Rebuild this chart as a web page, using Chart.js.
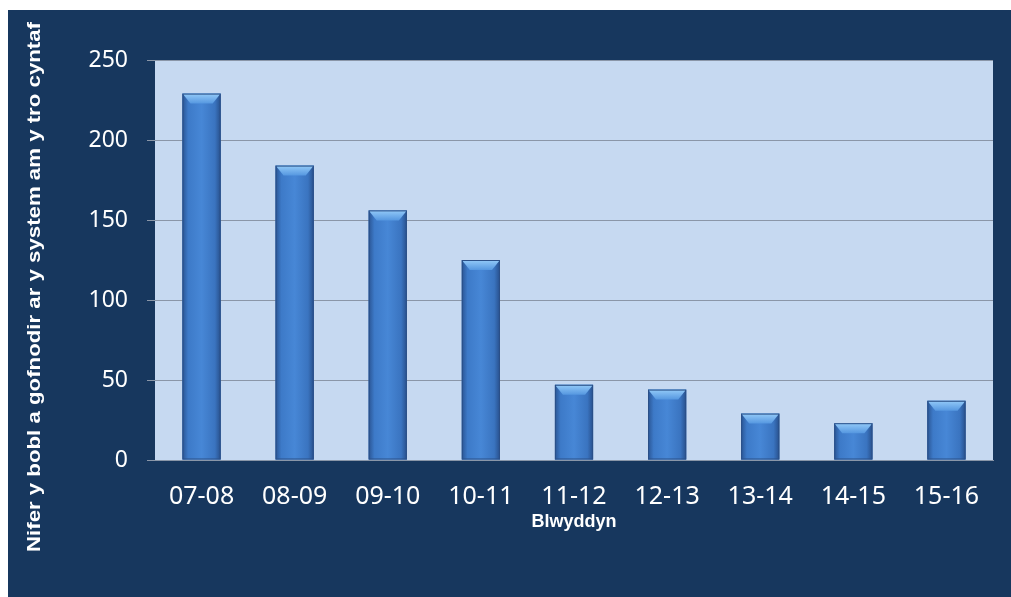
<!DOCTYPE html>
<html lang="cy">
<head>
  <meta charset="UTF-8">
  <title>Nifer y bobl a gofnodir ar y system am y tro cyntaf</title>
  <script src="https://cdn.jsdelivr.net/npm/chart.js"></script>
  <style>
    html, body { margin: 0; padding: 0; background: #fff; }
    #chartContainer {
      position: absolute;
      left: 8px;
      top: 10px;
      width: 1003px;
      height: 587px;
      background: #17375e;
    }
  </style>
</head>
<body>
<div id="chartContainer">
  <canvas id="yearChart"></canvas>
</div>

<script>
  const years = ['07-08', '08-09', '09-10', '10-11', '11-12', '12-13', '13-14', '14-15', '15-16'];
  const people = [229, 184, 156, 125, 47, 44, 29, 23, 37];
  const yTicks = [0, 50, 100, 150, 200, 250];
  const yTitle = 'Nifer y bobl a gofnodir ar y system am y tro cyntaf';
  const xTitle = 'Blwyddyn';

  // light blue plot area behind the bars
  const plotBackground = {
    id: 'plotBackground',
    beforeDraw(chart) {
      const { ctx, chartArea: a } = chart;
      ctx.save();
      ctx.fillStyle = '#c6d9f1';
      ctx.fillRect(a.left, a.top, a.right - a.left, a.bottom - a.top);
      ctx.restore();
    }
  };

  // shaded, bevelled look on each bar
  const bevel = {
    id: 'bevel',
    afterDatasetsDraw(chart) {
      const ctx = chart.ctx;
      chart.getDatasetMeta(0).data.forEach(bar => {
        const { x, y, base, width } = bar.getProps(['x', 'y', 'base', 'width'], true);
        const l = x - width / 2, r = x + width / 2;
        const g = ctx.createLinearGradient(l, 0, r, 0);
        g.addColorStop(0, '#2a5594');
        g.addColorStop(0.15, '#3d7ac8');
        g.addColorStop(0.5, '#4787d6');
        g.addColorStop(0.85, '#3a74c0');
        g.addColorStop(1, '#28508c');
        ctx.save();
        ctx.fillStyle = g;
        ctx.fillRect(l, y, width, base - y);
        const b = Math.min(10, (base - y) / 2);
        const tg = ctx.createLinearGradient(0, y, 0, y + b);
        tg.addColorStop(0, '#93caf8');
        tg.addColorStop(1, '#5597e0');
        ctx.fillStyle = tg;
        ctx.beginPath();
        ctx.moveTo(l, y);
        ctx.lineTo(r, y);
        ctx.lineTo(r - 8, y + b);
        ctx.lineTo(l + 8, y + b);
        ctx.closePath();
        ctx.fill();
        ctx.strokeStyle = '#2b5088';
        ctx.lineWidth = 1;
        ctx.strokeRect(l + 0.5, y + 0.5, width - 1, base - y - 1);
        ctx.restore();
      });
    }
  };

  // axis titles
  const axisTitles = {
    id: 'axisTitles',
    afterDraw(chart) {
      const { ctx, chartArea: a } = chart;
      ctx.save();
      ctx.fillStyle = '#ffffff';
      ctx.textAlign = 'center';
      ctx.textBaseline = 'middle';
      ctx.font = 'bold 18px "Liberation Sans", Arial, sans-serif';
      ctx.fillText(xTitle, (a.left + a.right) / 2, 512);
      ctx.translate(27, 277);
      ctx.rotate(-Math.PI / 2);
      ctx.font = 'bold 19px "Liberation Sans", Arial, sans-serif';
      const w = ctx.measureText(yTitle).width;
      ctx.scale(530 / w, 1);
      ctx.fillText(yTitle, 0, 0);
      ctx.restore();
    }
  };

  const ctx = document.getElementById('yearChart').getContext('2d');

  new Chart(ctx, {
    type: 'bar',
    data: {
      labels: years,
      datasets: [{
        data: people,
        backgroundColor: '#3d7ac8',
        barPercentage: 0.41,
        categoryPercentage: 1
      }]
    },
    options: {
      responsive: true,
      maintainAspectRatio: false,
      animation: false,
      layout: { padding: { top: 50, right: 18, left: 0, bottom: 0 } },
      plugins: {
        legend: { display: false },
        tooltip: { enabled: false }
      },
      scales: {
        x: {
          grid: { display: false },
          border: { display: true, color: '#8a96a8', width: 1 },
          ticks: {
            color: '#ffffff',
            padding: 14,
            font: { family: '"Noto Sans", sans-serif', size: 25 }
          },
          afterFit(scale) { scale.height = 137; }
        },
        y: {
          min: 0,
          max: 250,
          afterBuildTicks(scale) { scale.ticks = yTicks.map(v => ({ value: v })); },
          grid: { color: '#8a96a8', tickColor: '#8a96a8', tickLength: 8 },
          border: { display: false },
          ticks: {
            color: '#ffffff',
            padding: 19,
            font: { family: '"Noto Sans", sans-serif', size: 23 }
          },
          afterFit(scale) { scale.width = 147; }
        }
      }
    },
    plugins: [plotBackground, bevel, axisTitles]
  });
</script>
</body>
</html>
